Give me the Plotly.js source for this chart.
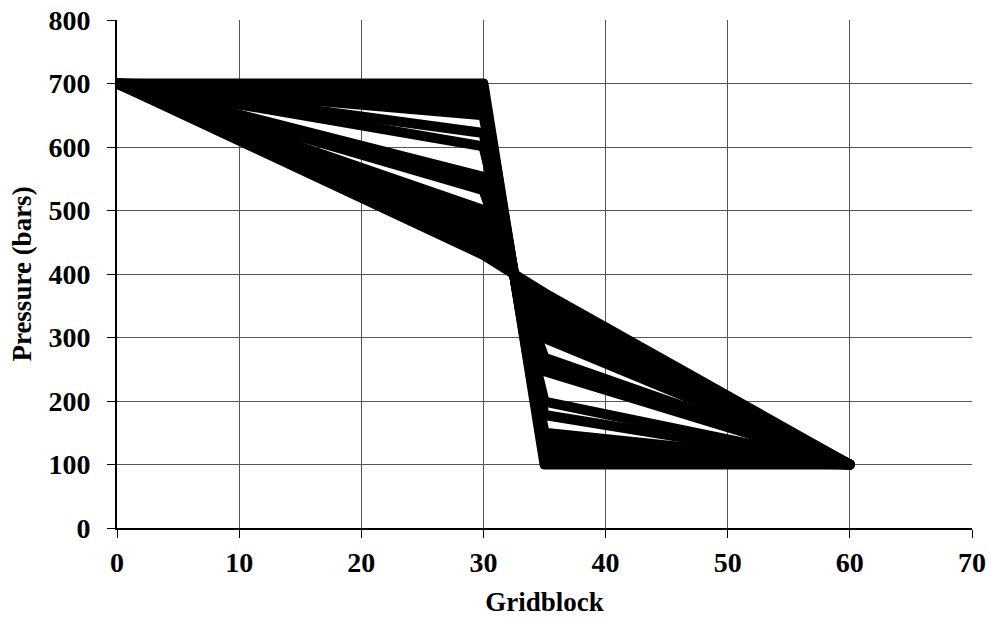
<!DOCTYPE html>
<html>
<head>
<meta charset="utf-8">
<script src="https://cdn.plot.ly/plotly-3.0.1.min.js"></script>
<style>
  html, body { margin: 0; padding: 0; background: #ffffff; }
  #chart { width: 991px; height: 617px; }
  /* rounded corners and ends on the thick profile lines */
  #chart .scatterlayer .js-line {
    stroke-linejoin: round !important;
    stroke-linecap: round !important;
  }
</style>
</head>
<body>
<div id="chart"></div>
<script>
// Gridblock positions where each pressure profile has a break in slope
const gridblocks = [0, 30, 35, 60];

// Boundary pressures (bars) at the inlet and outlet gridblocks
const inletPressure = 700;
const outletPressure = 100;

// Pressure (bars) on each side of the low-permeability zone, one entry per profile
const pressureAt30 = [700, 690, 680, 670, 660, 650, 622, 601, 553, 542, 532, 501, 490, 480, 470, 460, 450, 440, 430];
const pressureAt35 = [100, 110, 120, 130, 140, 150, 178, 199, 247, 258, 268, 299, 310, 320, 330, 340, 350, 360, 370];

const traces = pressureAt30.map((p30, i) => ({
  type: 'scatter',
  mode: 'lines',
  x: gridblocks,
  y: [inletPressure, p30, pressureAt35[i], outletPressure],
  line: { color: '#000000', width: 10 },
  hoverinfo: 'skip',
  showlegend: false
}));

const tickFont = { family: 'Liberation Serif', size: 28, color: '#000000', weight: 700 };
const titleFont = { family: 'Liberation Serif', size: 27, color: '#000000', weight: 700 };

const layout = {
  width: 991,
  height: 617,
  margin: { l: 117, r: 19, t: 20, b: 89 },
  paper_bgcolor: '#ffffff',
  plot_bgcolor: '#ffffff',
  showlegend: false,
  xaxis: {
    range: [0, 70],
    tickmode: 'array',
    tickvals: [0, 10, 20, 30, 40, 50, 60, 70],
    ticktext: ['0', '10', '20', '30', '40', '50', '60', '70'],
    ticks: 'outside',
    ticklen: 8,
    tickwidth: 1,
    tickcolor: '#000000',
    tickfont: tickFont,
    ticklabelstandoff: 0,
    showline: true,
    linecolor: '#000000',
    linewidth: 2,
    showgrid: true,
    gridcolor: '#555555',
    gridwidth: 1,
    zeroline: false,
    title: { text: 'Gridblock', font: titleFont, standoff: 26 }
  },
  yaxis: {
    range: [0, 800],
    tickmode: 'array',
    tickvals: [0, 100, 200, 300, 400, 500, 600, 700, 800],
    ticktext: ['0', '100', '200', '300', '400', '500', '600', '700', '800'],
    ticks: 'outside',
    ticklen: 8,
    tickwidth: 1,
    tickcolor: '#000000',
    tickfont: tickFont,
    ticklabelstandoff: 11,
    showline: true,
    linecolor: '#000000',
    linewidth: 2,
    showgrid: true,
    gridcolor: '#555555',
    gridwidth: 1,
    zeroline: false,
    title: { text: 'Pressure (bars)', font: titleFont, standoff: 9 }
  }
};

Plotly.newPlot('chart', traces, layout, { displayModeBar: false, staticPlot: true });
</script>
</body>
</html>
